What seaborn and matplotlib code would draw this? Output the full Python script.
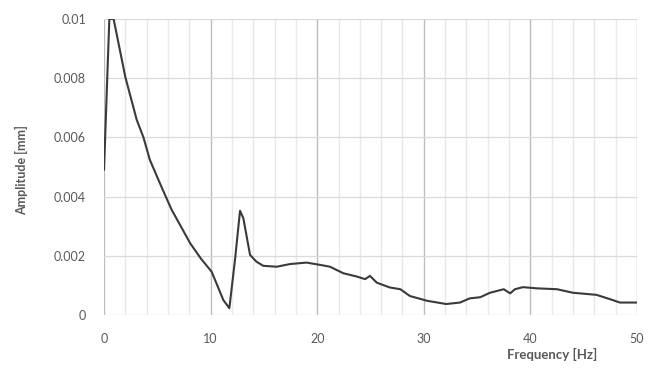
import matplotlib
matplotlib.use("Agg")
import matplotlib.pyplot as plt
import numpy as np
import pandas as pd
import seaborn as sns
from matplotlib.ticker import MultipleLocator

# values
freq = [0.0, 0.5, 0.9, 2.0, 3.07, 3.7, 4.3, 5.4, 6.35, 7.2, 8.07, 9.1, 10.1, 11.2, 11.76,
        12.3, 12.76, 13.07, 13.7, 14.3, 14.95, 16.2, 17.45, 19.0, 20.3, 21.2, 22.45,
        23.7, 24.5, 24.95, 25.6, 26.8, 27.8, 28.7, 30.3, 32.1, 33.4, 34.3, 35.3, 36.2,
        37.5, 38.1, 38.55, 39.3, 40.6, 42.5, 44.0, 46.2, 47.5, 48.4, 50.0]
amplitude = [0.0049, 0.0100, 0.0100, 0.00804, 0.00659, 0.0060, 0.00524, 0.00432, 0.00355,
             0.0030, 0.00243, 0.0019, 0.00146, 0.0005, 0.00023,
             0.0019, 0.00352, 0.00327, 0.00203, 0.0018, 0.00166, 0.00163, 0.00172, 0.00177,
             0.00169, 0.00163, 0.00141, 0.0013, 0.00121, 0.00132, 0.00109, 0.00093, 0.00087,
             0.00064, 0.00048, 0.00037, 0.00042, 0.00056, 0.0006, 0.00075, 0.00087, 0.00073,
             0.00087, 0.00094, 0.0009, 0.00087, 0.00075, 0.00068, 0.00053, 0.00042, 0.00042]
y_ticks = [0, 0.002, 0.004, 0.006, 0.008, 0.01]
y_tick_labels = ["0", "0.002", "0.004", "0.006", "0.008", "0.01"]

df = pd.DataFrame({"Frequency [Hz]": freq, "Amplitude [mm]": amplitude})

sns.set_style("white")
plt.rcParams["font.family"] = ["Lato", "DejaVu Sans"]

fig = plt.figure(figsize=(6.48, 3.71), dpi=100)
ax = fig.add_axes([0.1605, 0.151, 0.8225, 0.798])

sns.lineplot(data=df, x="Frequency [Hz]", y="Amplitude [mm]", ax=ax,
             color="#3a3a3a", linewidth=1.5, zorder=5)

ax.set_xlim(0, 50)
ax.set_ylim(0, 0.01)
ax.xaxis.set_major_locator(MultipleLocator(10))
ax.xaxis.set_minor_locator(MultipleLocator(2))
ax.set_yticks(y_ticks)
ax.set_yticklabels(y_tick_labels)

ax.grid(True, which="major", axis="x", color="#bdbdbd", linewidth=1.0)
ax.grid(True, which="minor", axis="x", color="#e8e8e8", linewidth=1.0)
ax.grid(True, which="major", axis="y", color="#dadada", linewidth=0.9)

for s in ax.spines.values():
    s.set_visible(False)

ax.tick_params(axis="both", which="both", length=0, labelsize=9, labelcolor="#595959")
ax.tick_params(axis="x", pad=13)
ax.tick_params(axis="y", pad=13)

ax.set_xlabel("Frequency [Hz]", fontsize=9.5, fontweight="bold", color="#595959")
ax.xaxis.label.set_va("center")
ax.xaxis.set_label_coords(0.84, -0.132)
ax.set_ylabel("Amplitude [mm]", fontsize=9, fontweight="bold", color="#595959")
ax.yaxis.set_label_coords(-0.143, 0.49)

fig.savefig("out.png", dpi=100)
